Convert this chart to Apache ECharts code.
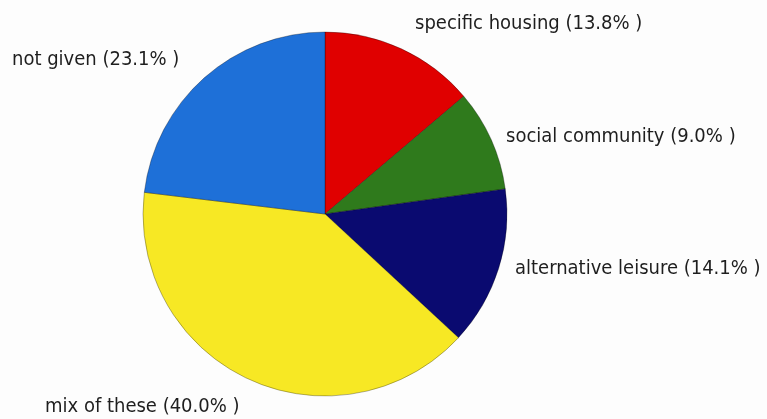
<!DOCTYPE html>
<html><head><meta charset="utf-8">
<script src="https://cdn.jsdelivr.net/npm/echarts@6/dist/echarts.min.js"></script>
<style>html,body{margin:0;padding:0;background:#fdfdfd}#c{width:767px;height:419px}</style>
</head><body><div id="c"></div>
<script>
const categories = ["specific housing", "social community", "alternative leisure", "mix of these", "not given"];
const values = [13.8, 9.0, 14.1, 40.0, 23.1];
const colors = ["#e00000", "#2f7a1c", "#0a0a70", "#f7e824", "#1e70d8"];
const labelPos = [[415, 24], [506, 137], [515, 269], [45, 407], [12, 60]];

const chart = echarts.init(document.getElementById('c'));
chart.setOption({
  backgroundColor: '#fdfdfd',
  animation: false,
  series: [{
    type: 'pie',
    center: [325, 214],
    radius: 182,
    startAngle: 90,
    clockwise: true,
    data: categories.map((n, i) => ({ name: n, value: values[i], itemStyle: { color: colors[i] } })),
    itemStyle: { borderColor: 'rgba(0,0,0,0.5)', borderWidth: 0.6 },
    label: {
      show: true,
      position: 'outside',
      alignTo: 'none',
      overflow: 'none',
      width: 400,
      formatter: p => p.name + ' (' + p.value.toFixed(1) + '% )',
      fontFamily: '"Liberation Sans Narrow", "Arial Narrow", "DejaVu Sans Condensed", "Liberation Sans", sans-serif',
      fontSize: 20,
      color: '#1e1e1e'
    },
    labelLine: { show: false },
    labelLayout: params => ({
      x: labelPos[params.dataIndex][0],
      y: labelPos[params.dataIndex][1],
      align: 'left',
      verticalAlign: 'middle',
      width: 400
    })
  }]
});
</script></body></html>
